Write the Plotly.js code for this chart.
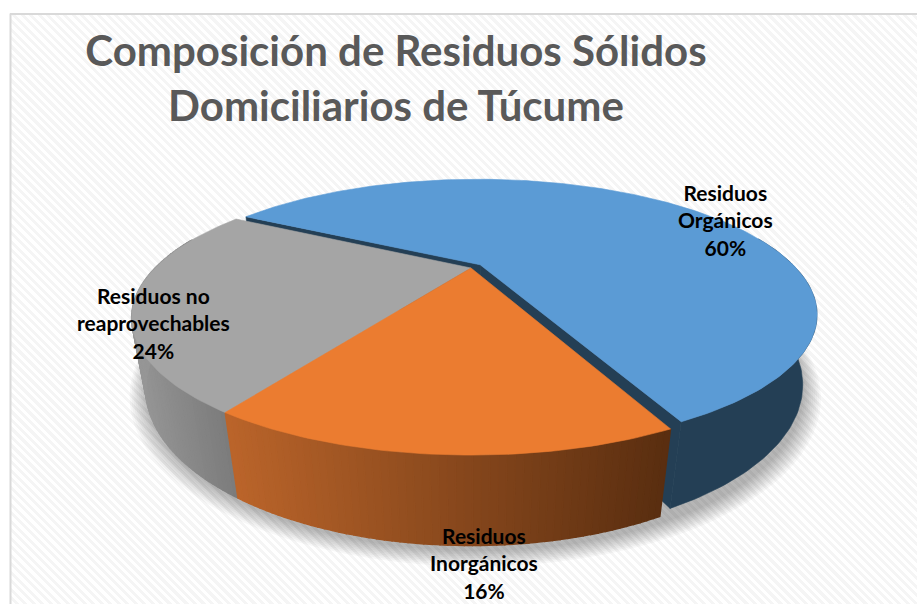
<!DOCTYPE html>
<html><head><meta charset="utf-8">
<script src="https://cdn.plot.ly/plotly-3.0.1.min.js"></script>
<style>
html,body{margin:0;padding:0;background:#fff;}
#chart{position:absolute;left:0;top:0;width:917px;height:604px;}
#bg{position:absolute;left:11px;top:15px;width:906px;height:589px;
background:repeating-linear-gradient(45deg,#ffffff 0 3px,#f5f5f5 3px 6px);}
</style></head><body>
<div id="bg"></div><div id="chart"></div>
<script>
const categories = ["Residuos<br>Orgánicos", "Residuos<br>Inorgánicos", "Residuos no<br>reaprovechables"];
const values = [60, 16, 24];
const topColors = ["#5B9BD5", "#EB7C30", "#A5A5A5"];
const wallLeft = [[36,63,85], [186,100,42], [150,150,150]];
const wallRight = [[36,63,85], [90,46,16], [124,124,124]];
const labelX = [725, 484, 153];
const labelY = [220, 563, 323];
const titleText = "Composición de Residuos Sólidos<br>Domiciliarios de Túcume";

// projection of the tilted disc onto the page
const startAngle = 151, cx = 471, cy = 268, R = 316, H = 118.8, K = 0.365, D = 68, M = 0.038, EXPLODE = [0.04, 0, 0];
const rad = d => d * Math.PI / 180;
function project(c, s, z) {
  const w = 1 + K * s + M * z;
  return [cx + R * c / w, cy + (-H * s + D * z) / w];
}
const total = values.reduce((a, b) => a + b, 0);
let cursor = startAngle;
const slices = values.map((v, i) => {
  const a0 = cursor, a1 = cursor - v / total * 360;
  cursor = a1;
  const mid = rad((a0 + a1) / 2);
  return {a0, a1, ox: EXPLODE[i] * Math.cos(mid), oy: EXPLODE[i] * Math.sin(mid), i};
});
const pt = (sl, ang, r, z) => project(sl.ox + r * Math.cos(rad(ang)), sl.oy + r * Math.sin(rad(ang)), z);
function poly(points, color, lw) {
  const pts = points.concat([points[0]]);
  return {type: "scatter", mode: "lines", x: pts.map(p => p[0]), y: pts.map(p => p[1]),
    fill: "toself", fillcolor: color, line: {color: color, width: lw === undefined ? 0.6 : lw},
    hoverinfo: "skip", showlegend: false};
}
function arc(sl, z) {
  const n = Math.max(2, Math.round(Math.abs(sl.a0 - sl.a1)));
  const out = [];
  for (let j = 0; j <= n; j++) out.push(pt(sl, sl.a0 + (sl.a1 - sl.a0) * j / n, 1, z));
  return out;
}
const traces = [];
// soft shadow under the pie
for (let i = 0; i < 10; i++) {
  const g = 1.05 - i * 0.005, pts = [];
  for (let a = 0; a < 360; a += 3) pts.push(project(0.012 + g * Math.cos(rad(a)), -0.012 + g * Math.sin(rad(a)), 1.0));
  traces.push({type: "scatter", mode: "lines", x: pts.map(p => p[0]).concat(pts[0][0]), y: pts.map(p => p[1]).concat(pts[0][1]),
    fill: "toself", fillcolor: "rgba(0,0,0,0.032)", line: {width: 0}, hoverinfo: "skip", showlegend: false});
}
function walls(sl) {
  const L = wallLeft[sl.i], Rr = wallRight[sl.i];
  const n = Math.round(Math.abs(sl.a1 - sl.a0));
  const vis = [];
  for (let j = 0; j < n; j++) {
    const a = sl.a0 + (sl.a1 - sl.a0) * j / n, b = sl.a0 + (sl.a1 - sl.a0) * (j + 1) / n;
    if (Math.sin(rad((a + b) / 2)) > 0.25) continue;
    vis.push([a, b]);
  }
  const xa = vis.map(q => pt(sl, q[0], 1, 0)[0]);
  const x0 = Math.min(...xa), x1 = Math.max(...xa);
  const same = L.join() === Rr.join();
  if (same) {
    // one solid wall
    const tops = vis.map(q => pt(sl, q[0], 1, 0)).concat([pt(sl, vis[vis.length - 1][1], 1, 0)]);
    const bots = vis.map(q => pt(sl, q[0], 1, 1)).concat([pt(sl, vis[vis.length - 1][1], 1, 1)]);
    traces.push(poly(tops.concat(bots.reverse()), "rgb(" + L.join(",") + ")"));
    return;
  }
  vis.forEach(q => {
    const t = (pt(sl, q[0], 1, 0)[0] - x0) / ((x1 - x0) || 1);
    const col = "rgb(" + L.map((c, k) => Math.round(c + (Rr[k] - c) * t)).join(",") + ")";
    traces.push(poly([pt(sl, q[0], 1, 0), pt(sl, q[1], 1, 0), pt(sl, q[1], 1, 1), pt(sl, q[0], 1, 1)], col, 1.4));
  });
}
function radial(sl) {
  const col = "rgb(" + wallLeft[sl.i].join(",") + ")";
  [sl.a0, sl.a1].forEach(a => traces.push(poly([pt(sl, a, 0, 0), pt(sl, a, 1, 0), pt(sl, a, 1, 1), pt(sl, a, 0, 1)], col)));
}
function topFace(sl) {
  traces.push(poly([pt(sl, 0, 0, 0)].concat(arc(sl, 0)), topColors[sl.i]));
}
// exploded slice first, the others drawn over it
walls(slices[0]); radial(slices[0]); topFace(slices[0]);
walls(slices[2]); walls(slices[1]);
topFace(slices[2]); topFace(slices[1]);

const annotations = categories.map((c, i) => ({
  xref: "x", yref: "y", x: labelX[i], y: labelY[i], text: "<b>" + c + "<br>" + values[i] + "%</b>",
  showarrow: false, xanchor: "center", yanchor: "middle", align: "center",
  font: {family: "Lato, 'Open Sans', sans-serif", size: 21, color: "#000"}
}));
const layout = {
  width: 917, height: 604, margin: {l: 0, r: 0, t: 0, b: 0},
  paper_bgcolor: "rgba(0,0,0,0)", plot_bgcolor: "rgba(0,0,0,0)",
  title: {text: "<b>" + titleText + "</b>", x: 396 / 917, xanchor: "center", y: 0.89, yanchor: "middle",
    font: {family: "Lato, 'Open Sans', sans-serif", size: 42, color: "#595959"}},
  xaxis: {range: [0, 917], visible: false, fixedrange: true},
  yaxis: {range: [604, 0], visible: false, fixedrange: true},
  showlegend: false, annotations,
  shapes: [
    {type: "line", xref: "x", yref: "y", x0: 10.5, x1: 10.5, y0: 13.5, y1: 604, line: {color: "#d9d9d9", width: 2}},
    {type: "line", xref: "x", yref: "y", x0: 10, x1: 917, y0: 14, y1: 14, line: {color: "#d9d9d9", width: 2}}
  ]
};
Plotly.newPlot("chart", traces, layout, {displayModeBar: false, staticPlot: true});
</script></body></html>
